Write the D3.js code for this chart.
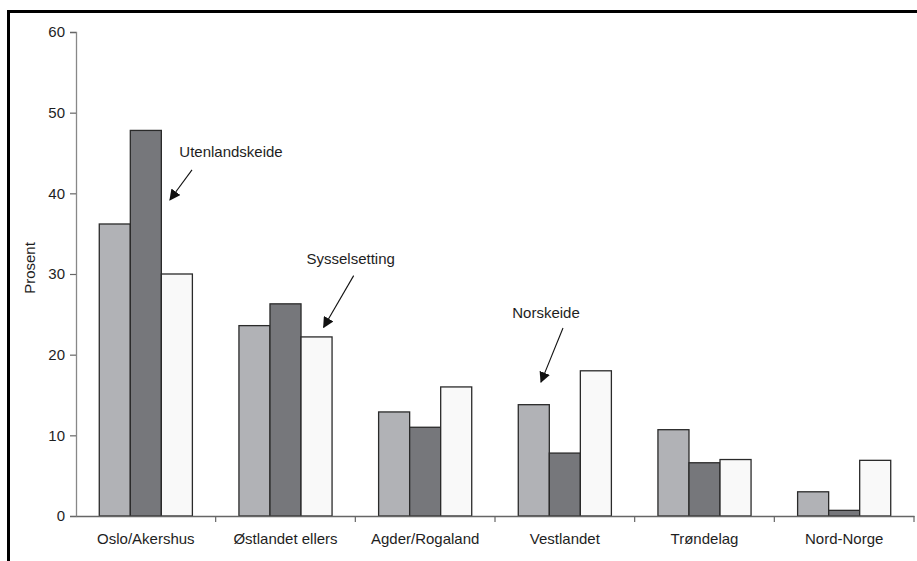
<!DOCTYPE html>
<html><head><meta charset="utf-8">
<script src="https://cdn.jsdelivr.net/npm/d3@7"></script>
<style>
body{margin:0;background:#fff;}
text{font-family:"Liberation Sans",Arial,sans-serif;fill:#1e1e1e;}
</style></head>
<body><svg id="c" width="917" height="561"></svg>
<script>
const categories = ["Oslo/Akershus","Østlandet ellers","Agder/Rogaland","Vestlandet","Trøndelag","Nord-Norge"];
const seriesNames = ["Sysselsetting","Utenlandskeide","Norskeide"];
const sysselsetting = [36.2, 23.6, 12.9, 13.8, 10.7, 3.0];
const utenlandskeide = [47.8, 26.3, 11.0, 7.8, 6.6, 0.7];
const norskeide = [30.0, 22.2, 16.0, 18.0, 7.0, 6.9];
const yTicks = [0,10,20,30,40,50,60];
const yLabel = "Prosent";
const colors = ["#b1b2b6","#76777b","#f9f9f9"];

const seriesValues = [sysselsetting, utenlandskeide, norskeide];
const svg = d3.select("#c");

// frame
svg.append("line").attr("x1",7).attr("x2",917).attr("y1",11.5).attr("y2",11.5).attr("stroke","#000").attr("stroke-width",3);
svg.append("line").attr("x1",8.5).attr("x2",8.5).attr("y1",10).attr("y2",561).attr("stroke","#000").attr("stroke-width",3);

const x0 = d3.scaleBand().domain(categories).range([76,914]).padding(0);
const x1 = d3.scaleBand().domain(seriesNames).range([0,x0.bandwidth()]).paddingInner(0).paddingOuter(0.75);
const y = d3.scaleLinear().domain([0,60]).range([516,32]);

// y axis
const yAxis = d3.axisLeft(y).tickValues(yTicks).tickSize(6).tickPadding(5);
const gy = svg.append("g").attr("transform","translate(76,0)").call(yAxis);
gy.select(".domain").attr("stroke","#888").attr("stroke-width",1.3);
gy.selectAll(".tick line").attr("stroke","#666").attr("stroke-width",1.2);
gy.selectAll(".tick text").attr("font-size",15).attr("fill","#1e1e1e").attr("font-family","Liberation Sans, Arial, sans-serif");

// bars
const groups = svg.append("g").selectAll("g").data(categories).join("g")
  .attr("transform",d=>`translate(${x0(d)},0)`);
groups.selectAll("rect").data((d,i)=>seriesNames.map((s,j)=>({s,j,v:seriesValues[j][i]}))).join("rect")
  .attr("x",d=>x1(d.s)).attr("width",x1.bandwidth())
  .attr("y",d=>y(d.v)).attr("height",d=>y(0)-y(d.v))
  .attr("fill",d=>colors[d.j]).attr("stroke","#2a2a2a").attr("stroke-width",1.3);

// x axis
const xAxis = d3.axisBottom(x0).tickSize(0).tickPadding(17);
const gx = svg.append("g").attr("transform",`translate(0,${y(0)})`).call(xAxis);
gx.select(".domain").attr("stroke","#666").attr("stroke-width",1.3);
gx.selectAll(".tick text").attr("font-size",15).attr("fill","#1e1e1e").attr("font-family","Liberation Sans, Arial, sans-serif");
// boundary ticks
const bounds = categories.slice(1).map(c=>x0(c)).concat([x0.range()[1]]);
gx.selectAll(".btick").data(bounds).join("line").attr("class","btick")
  .attr("x1",d=>d).attr("x2",d=>d).attr("y1",0).attr("y2",6).attr("stroke","#666").attr("stroke-width",1.2);

// y label
svg.append("text").attr("transform",`translate(35,${y(30)-6}) rotate(-90)`)
  .attr("text-anchor","middle").attr("font-size",15).text(yLabel);

// annotations
const defs = svg.append("defs");
defs.append("marker").attr("id","ah").attr("viewBox","0 0 10 10").attr("refX",9).attr("refY",5)
  .attr("markerWidth",11).attr("markerHeight",11).attr("markerUnits","userSpaceOnUse").attr("orient","auto")
  .append("path").attr("d","M0,0 L10,5 L0,10 Z").attr("fill","#111");
const ann = [
  {label:"Utenlandskeide", cat:0, tx:155, tv:44.5, x1:116, v1:42.9, x2:94, v2:39.2},
  {label:"Sysselsetting", cat:1, tx:135, tv:31.3, x1:138, v1:29.8, x2:108, v2:23.4},
  {label:"Norskeide", cat:3, tx:51, tv:24.5, x1:68, v1:23.3, x2:46, v2:16.6}
];
ann.forEach(a=>{
  const bx = x0(categories[a.cat]);
  svg.append("text").attr("x",bx+a.tx).attr("y",y(a.tv)).attr("text-anchor","middle").attr("font-size",15).text(a.label);
  svg.append("line").attr("x1",bx+a.x1).attr("y1",y(a.v1)).attr("x2",bx+a.x2).attr("y2",y(a.v2))
    .attr("stroke","#111").attr("stroke-width",1.1).attr("marker-end","url(#ah)");
});
</script></body></html>
